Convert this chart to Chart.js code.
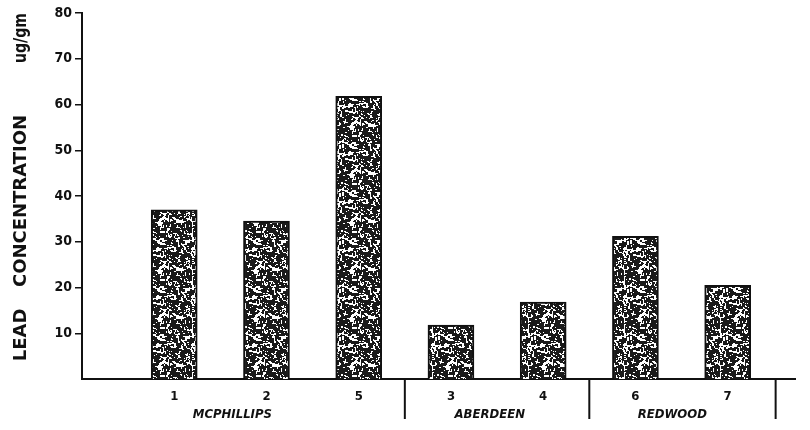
<!DOCTYPE html>
<html>
<head>
<meta charset="utf-8">
<script src="https://cdn.jsdelivr.net/npm/chart.js"></script>
<style>
  html, body { margin: 0; padding: 0; background: #fff; }
  #wrap { width: 810px; height: 430px; }
</style>
</head>
<body>
<div id="wrap"><canvas id="chart" width="810" height="430"></canvas></div>
<script>
// Sampling sites (bar labels) and lead concentration, ug/gm
const SITES = ['1', '2', '5', '3', '4', '6', '7'];
const LEAD = [37, 34.5, 61.8, 11.8, 16.8, 31.2, 20.5];
const Y_TICKS = [10, 20, 30, 40, 50, 60, 70, 80];
const GROUPS = ['MCPHILLIPS', 'ABERDEEN', 'REDWOOD'];
const GROUP_POS = [1.63, 4.42, 6.4];
const DIVIDERS = [3.5, 5.5, 7.52];

const INK = '#111';
const LETTERING = '"DejaVu Sans Condensed", "DejaVu Sans", sans-serif';

// speckled fill like the printed stipple
function makeStipple() {
    const c = document.createElement('canvas');
    c.width = 48; c.height = 48;
    const g = c.getContext('2d');
    g.fillStyle = '#fff';
    g.fillRect(0, 0, 48, 48);
    g.fillStyle = '#1a1a1a';
    let s = 12345;
    const next = () => { s = (s * 1103515245 + 12345) & 0x7fffffff; return s / 0x7fffffff; };
    for (let i = 0; i < 700; i++) {
        const x = next() * 48, y = next() * 48;
        g.fillRect(Math.floor(x), Math.floor(y), 1 + Math.floor(next() * 3), 1 + Math.floor(next() * 3));
    }
    return g.createPattern(c, 'repeat');
}

// y axis title and group labels under the x axis
const extras = {
    id: 'extras',
    afterDraw(chart) {
        const ctx = chart.ctx;
        const x = chart.scales.x;
        ctx.save();
        ctx.fillStyle = INK;
        ctx.strokeStyle = INK;
        ctx.lineWidth = 2;
        DIVIDERS.forEach(d => {
            const px = x.getPixelForValue(d);
            ctx.beginPath();
            ctx.moveTo(px, chart.chartArea.bottom);
            ctx.lineTo(px, chart.chartArea.bottom + 40);
            ctx.stroke();
        });
        ctx.font = 'oblique bold 13px ' + LETTERING;
        ctx.textAlign = 'center';
        ctx.textBaseline = 'middle';
        GROUPS.forEach((g, i) => {
            ctx.fillText(g, x.getPixelForValue(GROUP_POS[i]), 415, 82);
        });

        ctx.translate(21, 0);
        ctx.rotate(-Math.PI / 2);
        ctx.font = 'bold 18px "DejaVu Sans", sans-serif';
        ctx.fillText('LEAD', -335, 0, 54);
        ctx.fillText('CONCENTRATION', -201, 0, 178);
        ctx.fillText('ug/gm', -38, 0, 50);
        ctx.restore();
    }
};

new Chart(document.getElementById('chart'), {
    type: 'bar',
    data: {
        datasets: [{
            data: LEAD.map((v, i) => ({ x: i + 1, y: v })),
            backgroundColor: makeStipple(),
            borderColor: INK,
            borderWidth: 2,
            borderSkipped: 'bottom',
            barThickness: 46
        }]
    },
    options: {
        responsive: false,
        animation: false,
        layout: { padding: { left: 0, right: 15, top: 13, bottom: 0 } },
        plugins: { legend: { display: false }, tooltip: { enabled: false } },
        scales: {
            x: {
                type: 'linear',
                offset: false,
                min: 0,
                max: 7.73,
                afterBuildTicks: s => { s.ticks = SITES.map((_, i) => ({ value: i + 1 })); },
                afterFit: s => { s.height = 51; },
                grid: { display: false },
                border: { display: true, color: INK, width: 2 },
                ticks: {
                    color: INK,
                    padding: 2,
                    font: { family: LETTERING, size: 13, weight: 'bold' },
                    callback: v => SITES[v - 1] || ''
                }
            },
            y: {
                min: 0,
                max: 80,
                afterBuildTicks: s => { s.ticks = Y_TICKS.map(v => ({ value: v })); },
                afterFit: s => { s.width = 82; },
                grid: { drawOnChartArea: false, drawTicks: true, tickLength: 7, color: INK, lineWidth: 1.5 },
                border: { display: true, color: INK, width: 2 },
                ticks: {
                    color: INK,
                    padding: 3,
                    font: { family: LETTERING, size: 14, weight: 'bold' }
                }
            }
        }
    },
    plugins: [extras]
});
</script>
</body>
</html>
